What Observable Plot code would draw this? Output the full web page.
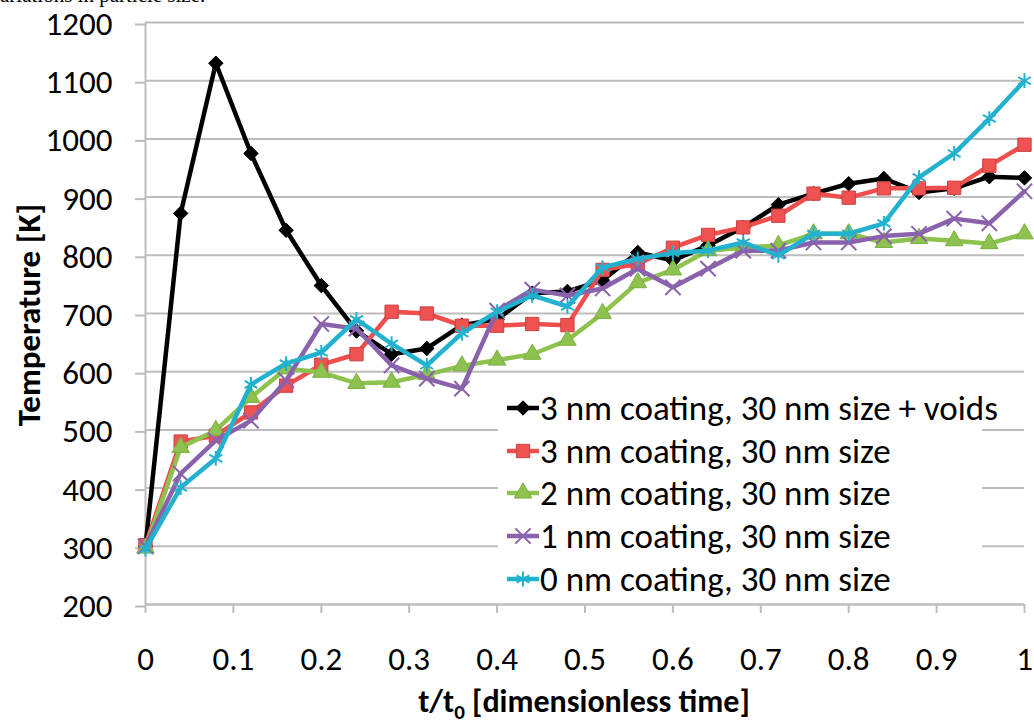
<!DOCTYPE html>
<html>
<head>
<meta charset="utf-8">
<script src="https://cdn.jsdelivr.net/npm/d3@7"></script>
<script src="https://cdn.jsdelivr.net/npm/@observablehq/plot@0.6"></script>
<style>
  body { margin: 0; background: #fff; }
  #wrap { position: relative; width: 1034px; height: 724px; overflow: hidden; font-family: Carlito, Lato, sans-serif; }
  #cut { position: absolute; left: 0; top: -17px; font-family: "Liberation Serif", serif; font-size: 21px; color: #000; white-space: nowrap; }
  #ytitle { position: absolute; left: 29px; top: 315px; transform: translate(-50%, -50%) rotate(-90deg); font-weight: bold; font-size: 33px; white-space: nowrap; }
  #xtitle { position: absolute; left: 584px; top: 701px; transform: translate(-50%, -50%); font-weight: bold; font-size: 32px; white-space: nowrap; }
  #legend { position: absolute; left: 498px; top: 388px; width: 484px; height: 210px; background: #fff; }
  .row { position: absolute; left: 8px; height: 40px; display: flex; align-items: center; font-size: 35px; white-space: nowrap; }
  .row svg { display: block; }
</style>
</head>
<body>
<div id="wrap">
  <div id="chart"></div>
  <div id="cut">ariations in particle size.</div>
  <div id="ytitle">Temperature [K]</div>
  <div id="xtitle">t/t<sub style="font-size:21px;vertical-align:-7px;line-height:0">0</sub> [dimensionless time]</div>
  <div id="legend"></div>
</div>
<script>
const t = [0,0.04,0.08,0.12,0.16,0.2,0.24,0.28,0.32,0.36,0.4,0.44,0.48,0.52,0.56,0.6,0.64,0.68,0.72,0.76,0.8,0.84,0.88,0.92,0.96,1];
const voids3nm = [300,872,1130,975,843,748,670,630,640,680,690,735,738,757,805,791,817,848,887,906,923,932,908,915,935,933];
const coat3nm  = [302,480,490,530,576,612,630,703,700,679,679,682,680,775,785,813,835,848,868,906,899,915,915,916,954,990];
const coat2nm  = [297,470,499,556,605,599,580,582,595,610,620,630,654,700,753,775,808,813,817,837,837,822,829,825,820,837];
const coat1nm  = [300,425,482,516,585,682,674,611,588,571,705,741,731,743,777,745,777,808,808,822,822,833,837,863,855,910];
const coat0nm  = [295,401,451,578,614,633,690,648,611,666,703,731,712,779,794,804,808,822,800,837,837,855,934,975,1035,1100];
const seriesNames = ["3 nm coating, 30 nm size + voids","3 nm coating, 30 nm size","2 nm coating, 30 nm size","1 nm coating, 30 nm size","0 nm coating, 30 nm size"];
const yTicks = [200,300,400,500,600,700,800,900,1000,1100,1200];
const xTicks = [0,0.1,0.2,0.3,0.4,0.5,0.6,0.7,0.8,0.9,1];

const styles = [
  {values: voids3nm, color: "#000000", symbol: "diamond2", fill: "#000000", stroke: "#000000", r: 6.5, sw: 1},
  {values: coat3nm, color: "#EE4E4C", symbol: "square", fill: "#F05252", stroke: "#C84242", r: 7.5, sw: 1},
  {values: coat2nm, color: "#8DC24E", symbol: "triangle", fill: "#8DC24E", stroke: "#7AAE40", r: 6.5, sw: 1},
  {values: coat1nm, color: "#8A62AC", symbol: "times", fill: "none", stroke: "#8A62AC", r: 7, sw: 2},
  {values: coat0nm, color: "#22B2CF", symbol: "asterisk", fill: "none", stroke: "#22B2CF", r: 7, sw: 2}
];

const marks = [
  Plot.gridY(yTicks, {stroke: "#bdbdbd", strokeOpacity: 1, strokeWidth: 2}),
  Plot.axisY(yTicks, {tickSize: 10, tickPadding: 23, stroke: "#bdbdbd", strokeWidth: 2, fill: "#000", fontSize: 33, label: null, tickFormat: d => String(d), dy: 2}),
  Plot.axisX(xTicks, {tickSize: 9, tickPadding: 33, stroke: "#bdbdbd", strokeWidth: 2, fill: "#000", fontSize: 33, label: null, tickFormat: d => String(d)}),
  Plot.ruleX([0], {y1: 200, y2: 1200, stroke: "#bdbdbd", strokeWidth: 2}),
  Plot.ruleY([200], {stroke: "#bdbdbd", strokeWidth: 2})
];
styles.forEach((s, i) => {
  const rows = t.map((tt, j) => ({t: tt, T: s.values[j], series: seriesNames[i]}));
  marks.push(Plot.line(rows, {x: "t", y: "T", stroke: s.color, strokeWidth: 4.5, strokeLinejoin: "round"}));
  marks.push(Plot.dot(rows, {x: "t", y: "T", symbol: () => s.symbol, r: s.r, fill: s.fill, stroke: s.stroke, strokeWidth: s.sw}));
});

const chart = Plot.plot({
  width: 1034,
  height: 724,
  marginLeft: 145,
  marginRight: 10,
  marginTop: 22,
  marginBottom: 120,
  style: {fontFamily: "Carlito, Lato, sans-serif", background: "#fff", overflow: "visible"},
  x: {domain: [0, 1]},
  y: {domain: [200, 1200]},
  symbol: {type: "identity"},
  marks
});
document.getElementById("chart").appendChild(chart);

// legend
const legend = d3.select("#legend");
const rowY = [0, 43, 85, 128, 171];
styles.forEach((s, i) => {
  const row = legend.append("div").attr("class", "row").style("top", rowY[i] + "px");
  const sv = row.append("svg").attr("width", 34).attr("height", 40);
  sv.append("line").attr("x1", 1).attr("x2", 33).attr("y1", 20).attr("y2", 20).attr("stroke", s.color).attr("stroke-width", 4.5);
  const symMap = {diamond2: d3.symbolDiamond2, square: d3.symbolSquare, triangle: d3.symbolTriangle, times: d3.symbolTimes, asterisk: d3.symbolAsterisk};
  sv.append("path").attr("transform", "translate(17,20)").attr("d", d3.symbol(symMap[s.symbol], Math.PI * s.r * s.r)())
    .attr("fill", s.fill).attr("stroke", s.stroke).attr("stroke-width", s.sw);
  row.append("span").text(seriesNames[i]);
});
</script>
</body>
</html>
